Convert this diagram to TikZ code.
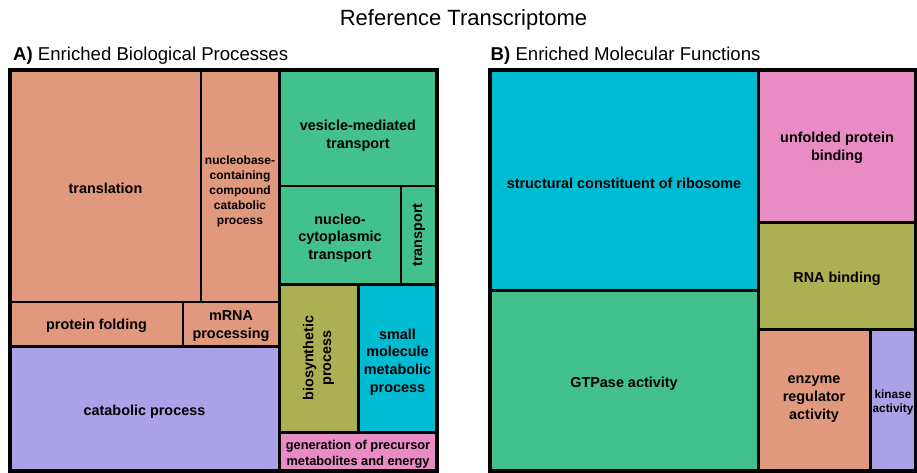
\documentclass[tikz,border=0pt]{standalone}
\usepackage{fontspec}
\setmainfont{Liberation Sans}
\definecolor{salmon}{HTML}{E0997D}
\definecolor{mint}{HTML}{42C08D}
\definecolor{lilac}{HTML}{ABA1E8}
\definecolor{olive}{HTML}{ABB052}
\definecolor{teal}{HTML}{00BCD3}
\definecolor{rose}{HTML}{E98CC5}
\newcommand{\lblfont}{\fontsize{14.4}{17.7}\selectfont\bfseries}
\newcommand{\smallfont}{\fontsize{12}{15}\selectfont\bfseries}
\tikzset{
  tile/.style={draw=black, line width=1.5pt},
  group/.style={draw=black, line width=3pt},
  panel/.style={draw=black, line width=3.5pt},
  lbl/.style={font=\lblfont, align=center, inner sep=0pt, yshift=-2pt},
  lblsmall/.style={lbl, font=\smallfont},
  heading/.style={font=\fontsize{18.6}{22}\selectfont, anchor=base west, inner sep=0pt},
}
\begin{document}
\begin{tikzpicture}[x=1pt, y=-1pt, line join=miter]
\useasboundingbox (0,0) rectangle (917,472);
\node[font=\fontsize{22}{26}\selectfont, anchor=base, inner sep=0pt] (title) at (463.5,25) {Reference Transcriptome};
\node[heading] (headA) at (13,60) {\textbf{A)} Enriched Biological Processes};
\node[heading] (headB) at (490.5,60) {\textbf{B)} Enriched Molecular Functions};

% A) biological processes
\draw[tile, fill=salmon] (10,70) rectangle (201,302);
\node[lbl] (transl) at (105.5,186) {translation};
\draw[tile, fill=salmon] (201,70) rectangle (279,302);
\node[lblsmall] (nucbase) at (240,189) {nucleobase-\\containing\\compound\\catabolic\\process};
\draw[tile, fill=salmon] (10,302) rectangle (183,346);
\node[lbl] (protfold) at (96.5,324) {protein folding};
\draw[tile, fill=salmon] (183,302) rectangle (279,346);
\node[lbl] (mrna) at (231,324) {mRNA\\processing};
\draw[tile, fill=lilac] (10,346) rectangle (279,471);
\node[lbl] (catab) at (144.5,410) {catabolic process};
\draw[tile, fill=mint] (279,70) rectangle (437,186);
\node[lbl] (vesicle) at (358,134) {vesicle-mediated\\transport};
\draw[tile, fill=mint] (279,186) rectangle (401,284);
\node[lbl] (nuccyto) at (340,236) {nucleo-\\cytoplasmic\\transport};
\draw[tile, fill=mint] (401,186) rectangle (437,284);
\node[lbl, yshift=2pt, rotate=90] (transp) at (419,235) {transport};
\draw[tile, fill=olive] (279,284) rectangle (358,432);
\node[lbl, yshift=2pt, rotate=90] (biosyn) at (318.5,358) {biosynthetic\\process};
\draw[tile, fill=teal] (358,284) rectangle (437,432);
\node[lbl] (smallmol) at (397.5,360) {small\\molecule\\metabolic\\process};
\draw[tile, fill=rose] (279,432) rectangle (437,471);
\node[lbl, font=\fontsize{12.8}{15.5}\selectfont\bfseries] (genprec) at (358,452) {generation of precursor\\metabolites and energy};
% group outlines
\draw[group] (10,70) rectangle (279,346) (10,346) rectangle (279,471)
  (279,70) rectangle (437,284) (279,284) rectangle (358,432)
  (358,284) rectangle (437,432) (279,432) rectangle (437,471);
\draw[panel] (10,70) rectangle (437,471);

% B) molecular functions
\draw[tile, fill=teal] (490,70) rectangle (758,290);
\node[lbl] (ribo) at (624,181) {structural constituent of ribosome};
\draw[tile, fill=mint] (490,290) rectangle (758,471);
\node[lbl] (gtpase) at (624,382) {GTPase activity};
\draw[tile, fill=rose] (758,70) rectangle (916,222);
\node[lbl] (unfold) at (837,146) {unfolded protein\\binding};
\draw[tile, fill=olive] (758,222) rectangle (916,329);
\node[lbl] (rnabind) at (837,277) {RNA binding};
\draw[tile, fill=salmon] (758,329) rectangle (870,471);
\node[lbl] (enzreg) at (814,397) {enzyme\\regulator\\activity};
\draw[tile, fill=lilac] (870,329) rectangle (916,471);
\node[lblsmall, font=\fontsize{11.8}{14}\selectfont\bfseries] (kinase) at (893,400) {kinase\\activity};
% group outlines
\draw[group] (490,70) rectangle (758,290) (490,290) rectangle (758,471)
  (758,70) rectangle (916,222) (758,222) rectangle (916,329)
  (758,329) rectangle (870,471) (870,329) rectangle (916,471);
\draw[panel] (490,70) rectangle (916,471);
\end{tikzpicture}
\end{document}
